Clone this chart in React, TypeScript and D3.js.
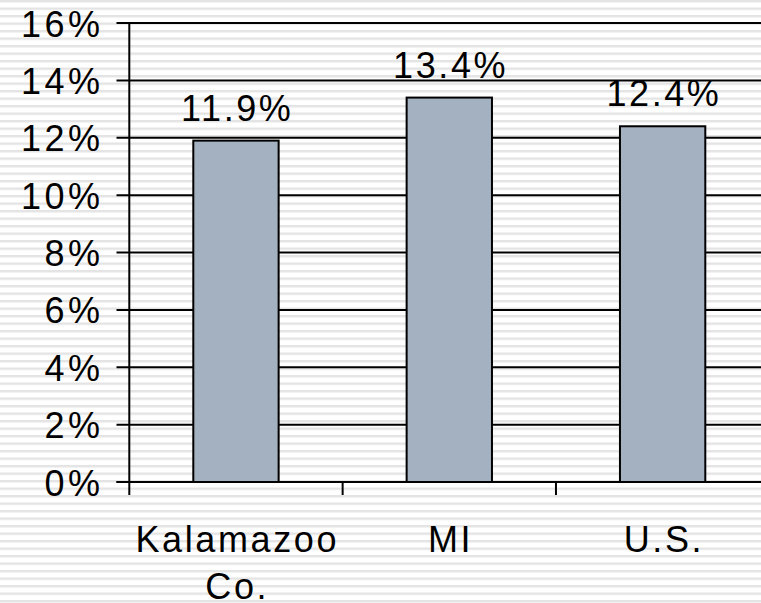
import React from "react";
import * as d3 from "d3";

const categories = ["Kalamazoo Co.", "MI", "U.S."];
const categoryLines = [["Kalamazoo", "Co."], ["MI"], ["U.S."]];
const values = [0.119, 0.134, 0.124];
const valueLabels = ["11.9%", "13.4%", "12.4%"];
const yTicks = [0, 0.02, 0.04, 0.06, 0.08, 0.1, 0.12, 0.14, 0.16];

const W = 761;
const H = 603;
const FONT = "'Liberation Sans', Arial, sans-serif";
const LS = 2.6;

export default function App() {
  const x = d3
    .scaleBand<string>()
    .domain(categories)
    .range([129.3, 769.3])
    .paddingInner(0.6)
    .paddingOuter(0.3);
  const y = d3.scaleLinear().domain([0, 0.16]).range([482, 23]);
  const fmt = d3.format(".0%");
  const step = x.step();
  const x0 = 129.3;
  const boundaries = d3.range(categories.length + 1).map((i) => x0 + i * step);

  return (
    <svg
      width={W}
      height={H}
      style={{ position: "absolute", left: 0, top: 0, background: "#fff" }}
      fontFamily={FONT}
    >
      <defs>
        <pattern id="stripes" width={8} height={7.5} patternUnits="userSpaceOnUse">
          <rect width={8} height={7.5} fill="#ffffff" />
          <rect y={0} width={8} height={2.4} fill="#e4e4e4" />
        </pattern>
      </defs>
      <rect width={W} height={H} fill="url(#stripes)" />

      {/* gridlines + y ticks */}
      {yTicks.map((t) => (
        <g key={t}>
          <line
            x1={116.5}
            x2={W}
            y1={y(t)}
            y2={y(t)}
            stroke="#000"
            strokeWidth={2}
          />
          <text
            x={100 + 3.5}
            y={y(t) + 13.5}
            textAnchor="end"
            fontSize={36}
            letterSpacing={3.5}
            fill="#000"
          >
            {fmt(t)}
          </text>
        </g>
      ))}

      {/* y axis */}
      <line x1={x0} x2={x0} y1={y(0.16)} y2={y(0)} stroke="#000" strokeWidth={2} />

      {/* bars */}
      {categories.map((c, i) => (
        <rect
          key={c}
          x={x(c)}
          y={y(values[i])}
          width={x.bandwidth()}
          height={y(0) - y(values[i])}
          fill="#a4b1c0"
          stroke="#000"
          strokeWidth={2}
        />
      ))}

      {/* value labels */}
      {categories.map((c, i) => (
        <text
          key={c}
          x={(x(c) ?? 0) + x.bandwidth() / 2 + LS / 2}
          y={y(values[i]) - 20}
          textAnchor="middle"
          fontSize={36}
          letterSpacing={LS}
          fill="#000"
        >
          {valueLabels[i]}
        </text>
      ))}

      {/* x axis with category ticks */}
      <line x1={116.5} x2={W} y1={y(0)} y2={y(0)} stroke="#000" strokeWidth={2} />
      {boundaries.map((b, i) => (
        <line key={i} x1={b} x2={b} y1={y(0)} y2={y(0) + 13} stroke="#000" strokeWidth={2} />
      ))}

      {/* category labels */}
      {categories.map((c, i) => (
        <text
          key={c}
          x={(x(c) ?? 0) + x.bandwidth() / 2 + LS / 2}
          y={551.7}
          textAnchor="middle"
          fontSize={36}
          letterSpacing={LS}
          fill="#000"
        >
          {categoryLines[i].map((line, j) => (
            <tspan key={j} x={(x(c) ?? 0) + x.bandwidth() / 2 + LS / 2} dy={j === 0 ? 0 : 47.5}>
              {line}
            </tspan>
          ))}
        </text>
      ))}
    </svg>
  );
}
